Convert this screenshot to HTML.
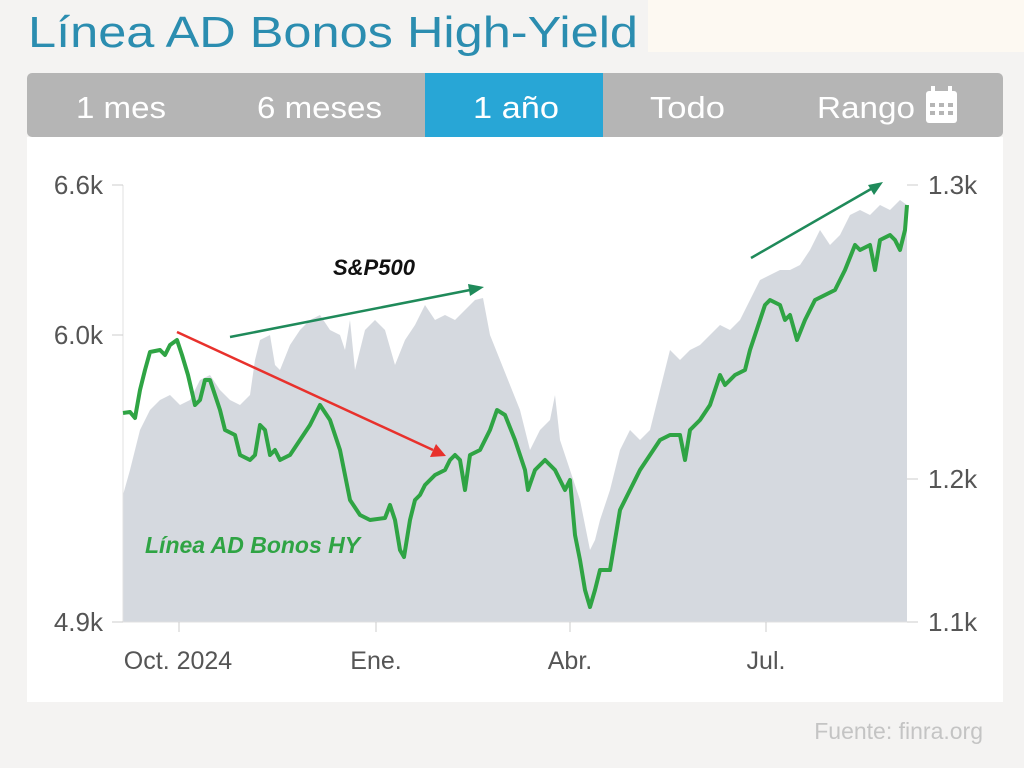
<!DOCTYPE html>
<html><head><meta charset="utf-8"><style>
html,body{margin:0;padding:0;background:#f4f3f2;}
svg{display:block}
text{font-family:"Liberation Sans",sans-serif}
</style></head><body>
<svg width="1024" height="768" viewBox="0 0 1024 768">
<rect x="0" y="0" width="1024" height="768" fill="#f4f3f2"/>
<rect x="648" y="0" width="376" height="52" fill="#fdf9f2"/>
<text x="28" y="47" font-size="44" fill="#2b8db0" textLength="610" lengthAdjust="spacingAndGlyphs">Línea AD Bonos High-Yield</text>
<rect x="27" y="73" width="976" height="64" rx="5" fill="#b5b5b5"/>
<rect x="425" y="73" width="178" height="64" fill="#28a6d6"/>
<g fill="#fff" font-size="31">
<text x="76" y="118" textLength="90" lengthAdjust="spacingAndGlyphs">1 mes</text>
<text x="257" y="118" textLength="125" lengthAdjust="spacingAndGlyphs">6 meses</text>
<text x="473" y="118" textLength="86" lengthAdjust="spacingAndGlyphs">1 año</text>
<text x="650" y="118" textLength="75" lengthAdjust="spacingAndGlyphs">Todo</text>
<text x="817" y="118" textLength="98" lengthAdjust="spacingAndGlyphs">Rango</text>
</g>
<rect x="926" y="91" width="31" height="32" rx="3" fill="#fff"/>
<rect x="931" y="86" width="4" height="8" fill="#fff"/><rect x="948" y="86" width="4" height="8" fill="#fff"/>
<g fill="#b5b5b5"><rect x="930" y="103" width="5" height="4"/><rect x="939" y="103" width="5" height="4"/><rect x="948" y="103" width="5" height="4"/><rect x="930" y="111" width="5" height="4"/><rect x="939" y="111" width="5" height="4"/><rect x="948" y="111" width="5" height="4"/></g>
<rect x="27" y="137" width="976" height="565" fill="#fff"/>
<path fill="#d5d9df" d="M123,622 L123,495 L130,470 L135,450 L140,430 L150,410 L160,400 L170,395 L180,405 L190,400 L200,380 L210,375 L220,390 L230,400 L240,405 L250,395 L255,360 L260,340 L270,335 L275,365 L280,370 L290,345 L300,330 L310,320 L320,315 L330,330 L340,335 L345,350 L350,320 L355,370 L365,330 L375,320 L385,330 L395,365 L405,340 L415,325 L425,305 L435,320 L445,315 L455,320 L465,310 L475,300 L483,298 L490,335 L500,360 L510,385 L520,410 L530,450 L540,430 L550,420 L555,395 L560,440 L570,470 L580,500 L590,550 L595,540 L600,520 L610,490 L620,450 L630,430 L640,440 L650,430 L660,390 L670,350 L680,360 L690,350 L700,345 L710,335 L720,325 L730,330 L740,320 L750,300 L760,280 L770,275 L780,270 L790,270 L800,265 L810,250 L820,230 L830,245 L840,235 L850,215 L860,210 L870,215 L880,205 L890,210 L900,200 L907,205 L907,622 Z"/>
<line x1="123" y1="185" x2="123" y2="622" stroke="#e0e0e0"/>
<line x1="123" y1="622" x2="907" y2="622" stroke="#e0e0e0"/>
<g stroke="#ccc"><line x1="112" y1="185" x2="123" y2="185"/><line x1="112" y1="335" x2="123" y2="335"/><line x1="112" y1="622" x2="123" y2="622"/>
<line x1="907" y1="185" x2="918" y2="185"/><line x1="907" y1="479" x2="918" y2="479"/><line x1="907" y1="622" x2="918" y2="622"/>
<line x1="179" y1="622" x2="179" y2="632"/><line x1="376" y1="622" x2="376" y2="632"/><line x1="570" y1="622" x2="570" y2="632"/><line x1="766" y1="622" x2="766" y2="632"/></g>
<g fill="#555" font-size="26">
<text x="103" y="194" text-anchor="end">6.6k</text>
<text x="103" y="344" text-anchor="end">6.0k</text>
<text x="103" y="631" text-anchor="end">4.9k</text>
<text x="928" y="194">1.3k</text>
<text x="928" y="488">1.2k</text>
<text x="928" y="631">1.1k</text>
</g>
<g fill="#555" font-size="25">
<text x="178" y="669" text-anchor="middle">Oct. 2024</text>
<text x="376" y="669" text-anchor="middle">Ene.</text>
<text x="570" y="669" text-anchor="middle">Abr.</text>
<text x="766" y="669" text-anchor="middle">Jul.</text>
</g>
<polyline fill="none" stroke="#2fa444" stroke-width="4" stroke-linejoin="round" points="123,413 130,412 135,418 140,390 145,370 150,352 160,350 165,355 170,345 177,340 182,355 188,375 195,405 200,400 205,380 210,380 215,395 220,410 225,430 235,435 240,455 250,460 255,455 260,425 265,430 270,455 275,450 280,460 290,455 300,440 310,425 320,405 330,420 340,450 350,500 360,515 370,520 385,518 390,505 395,520 400,550 404,557 410,520 415,500 420,495 425,485 435,475 445,470 450,460 455,455 460,460 465,490 470,455 480,450 490,430 497,410 505,415 515,440 525,470 528,490 535,470 545,460 555,470 565,490 570,480 575,535 580,560 585,590 590,607 595,590 600,570 610,570 615,540 620,510 630,490 640,470 650,455 660,440 670,435 680,435 685,460 690,430 700,420 710,405 715,390 720,375 725,385 735,375 745,370 750,350 760,320 765,305 770,300 780,305 785,320 790,315 797,340 805,320 815,300 825,295 835,290 840,280 845,270 855,245 860,250 870,245 875,270 880,240 890,235 895,240 900,250 905,230 907,205"/>
<line x1="177" y1="332" x2="433" y2="450" stroke="#e8312c" stroke-width="2.5"/>
<polygon points="446,456 430,457 436,444" fill="#e8312c"/>
<line x1="230" y1="337" x2="470" y2="290" stroke="#1f8a5a" stroke-width="2.5"/>
<polygon points="484,287 470,296 468,284" fill="#1f8a5a"/>
<line x1="751" y1="258" x2="871" y2="189" stroke="#1f8a5a" stroke-width="2.5"/>
<polygon points="883,182 874,195 868,185" fill="#1f8a5a"/>
<text x="333" y="275" font-size="22" font-weight="bold" font-style="italic" fill="#111">S&amp;P500</text>
<text x="145" y="553" font-size="23" font-weight="bold" font-style="italic" fill="#2fa444">Línea AD Bonos HY</text>
<text x="983" y="739" font-size="23" fill="#c4c4c4" text-anchor="end">Fuente: finra.org</text>
</svg>
</body></html>
